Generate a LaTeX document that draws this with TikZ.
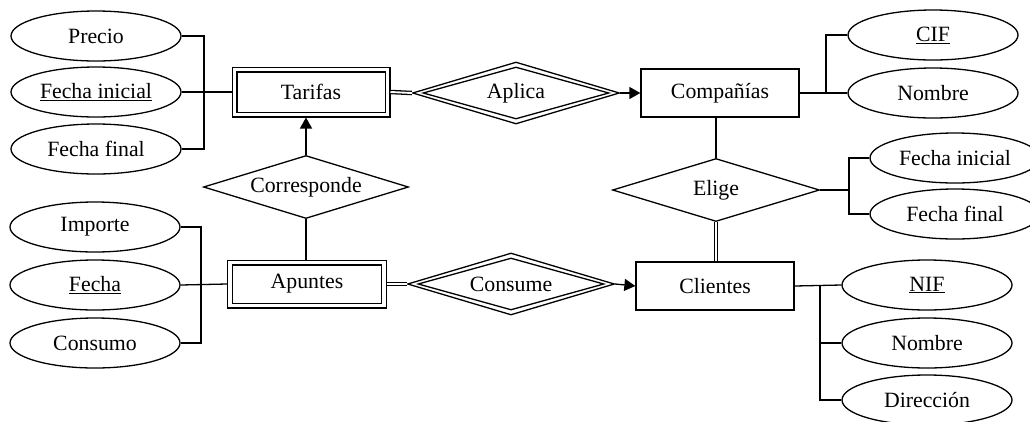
\documentclass[tikz,border=0pt]{standalone}
\usepackage{fontspec}
\setmainfont{Liberation Serif}
\usetikzlibrary{shapes.geometric,arrows.meta}
\begin{document}
\begin{tikzpicture}[x=1pt,y=-1pt,line width=1.3pt,
 every node/.style={font=\fontsize{21.8}{26}\selectfont, line width=1.3pt},
 attr/.style={ellipse, draw, minimum width=170pt, minimum height=50pt, inner sep=0pt},
 ent/.style={rectangle, draw, minimum width=158pt, minimum height=48pt, inner sep=0pt},
 weak/.style={rectangle, draw, double, double distance=3.4pt, inner sep=0pt, outer sep=3pt},
 rel/.style={diamond, draw, inner sep=0pt, aspect=3.3},
 dbl/.style={double, double distance=1.9pt},
 arr/.style={-{Triangle[length=11pt,width=12pt]}}]
\useasboundingbox (0,0) rectangle (1030,421);
% left top
\node[attr] (precio) at (96,36) {Precio};
\node[attr] (fini) at (96,92) {\underline{Fecha inicial}};
\node[attr] (ffin) at (96,149) {Fecha final};
\node[weak, minimum width=153pt, minimum height=45pt] (tarifas) at (311,92) {Tarifas};
\node[rel, minimum width=207pt, minimum height=62pt] (aplica) at (516,93) {Aplica};
\node[rel, minimum width=186pt, minimum height=52pt] (aplicain) at (aplica.center) {};
\node[ent] (comp) at (720,93) {Compañías};
\node[attr] (cif) at (933,35) {\underline{CIF}};
\node[attr] (nom1) at (933,93) {Nombre};
\node[rel, minimum width=205pt, minimum height=63pt] (corr) at (306,187) {Corresponde};
\node[rel, minimum width=207pt, minimum height=63pt] (elige) at (716,190) {Elige};
\node[attr] (fi2) at (955,158) {Fecha inicial};
\node[attr] (ff2) at (955,214) {Fecha final};
\node[attr] (imp) at (95,227) {Importe};
\node[attr] (fecha) at (95,285) {\underline{Fecha}};
\node[attr] (cons) at (95,343) {Consumo};
\node[weak, minimum width=154pt, minimum height=43pt] (apun) at (307,284) {Apuntes};
\node[rel, minimum width=207pt, minimum height=62pt] (consume) at (511,284) {Consume};
\node[rel, minimum width=186pt, minimum height=52pt] (consumein) at (consume.center) {};
\node[ent] (cli) at (715,286) {Clientes};
\node[attr] (nif) at (927,285) {\underline{NIF}};
\node[attr] (nom2) at (927,343) {Nombre};
\node[attr] (dir) at (927,400) {Dirección};
% connectors
\coordinate (bL1) at (204,0);
\draw (precio.east) -| (bL1 |- ffin.east) -- (ffin.east);
\draw (fini.east) -- (tarifas.west);
\draw[dbl] (tarifas.east) -- (aplica.west);
\draw[arr] (aplica.east) -- (comp.west);
\coordinate (bC) at (826,0);
\draw (cif.west) -| (bC |- nom1.west);
\draw (comp.east) -- (nom1.west);
\draw[arr] (corr.north) -- (corr.north |- tarifas.south);
\draw (corr.south) -- (corr.south |- apun.north);
\draw (elige.north |- comp.south) -- (elige.north);
\coordinate (bE) at (849,0);
\draw (elige.east) -- (bE |- elige.east);
\draw (fi2.west) -| (bE |- ff2.west) -- (ff2.west);
\draw[dbl] (elige.south) -- (elige.south |- cli.north);
\coordinate (bL2) at (201,0);
\draw (imp.east) -| (bL2 |- cons.east) -- (cons.east);
\draw (fecha.east) -- (apun.west);
\draw[dbl] (apun.east) -- (consume.west);
\draw[arr] (consume.east) -- (cli.west);
\draw (cli.east) -- (nif.west);
\coordinate (bN) at (820,0);
\draw (bN |- cli.east) |- (dir.west);
\draw (bN |- nom2.west) -- (nom2.west);
\end{tikzpicture}
\end{document}
